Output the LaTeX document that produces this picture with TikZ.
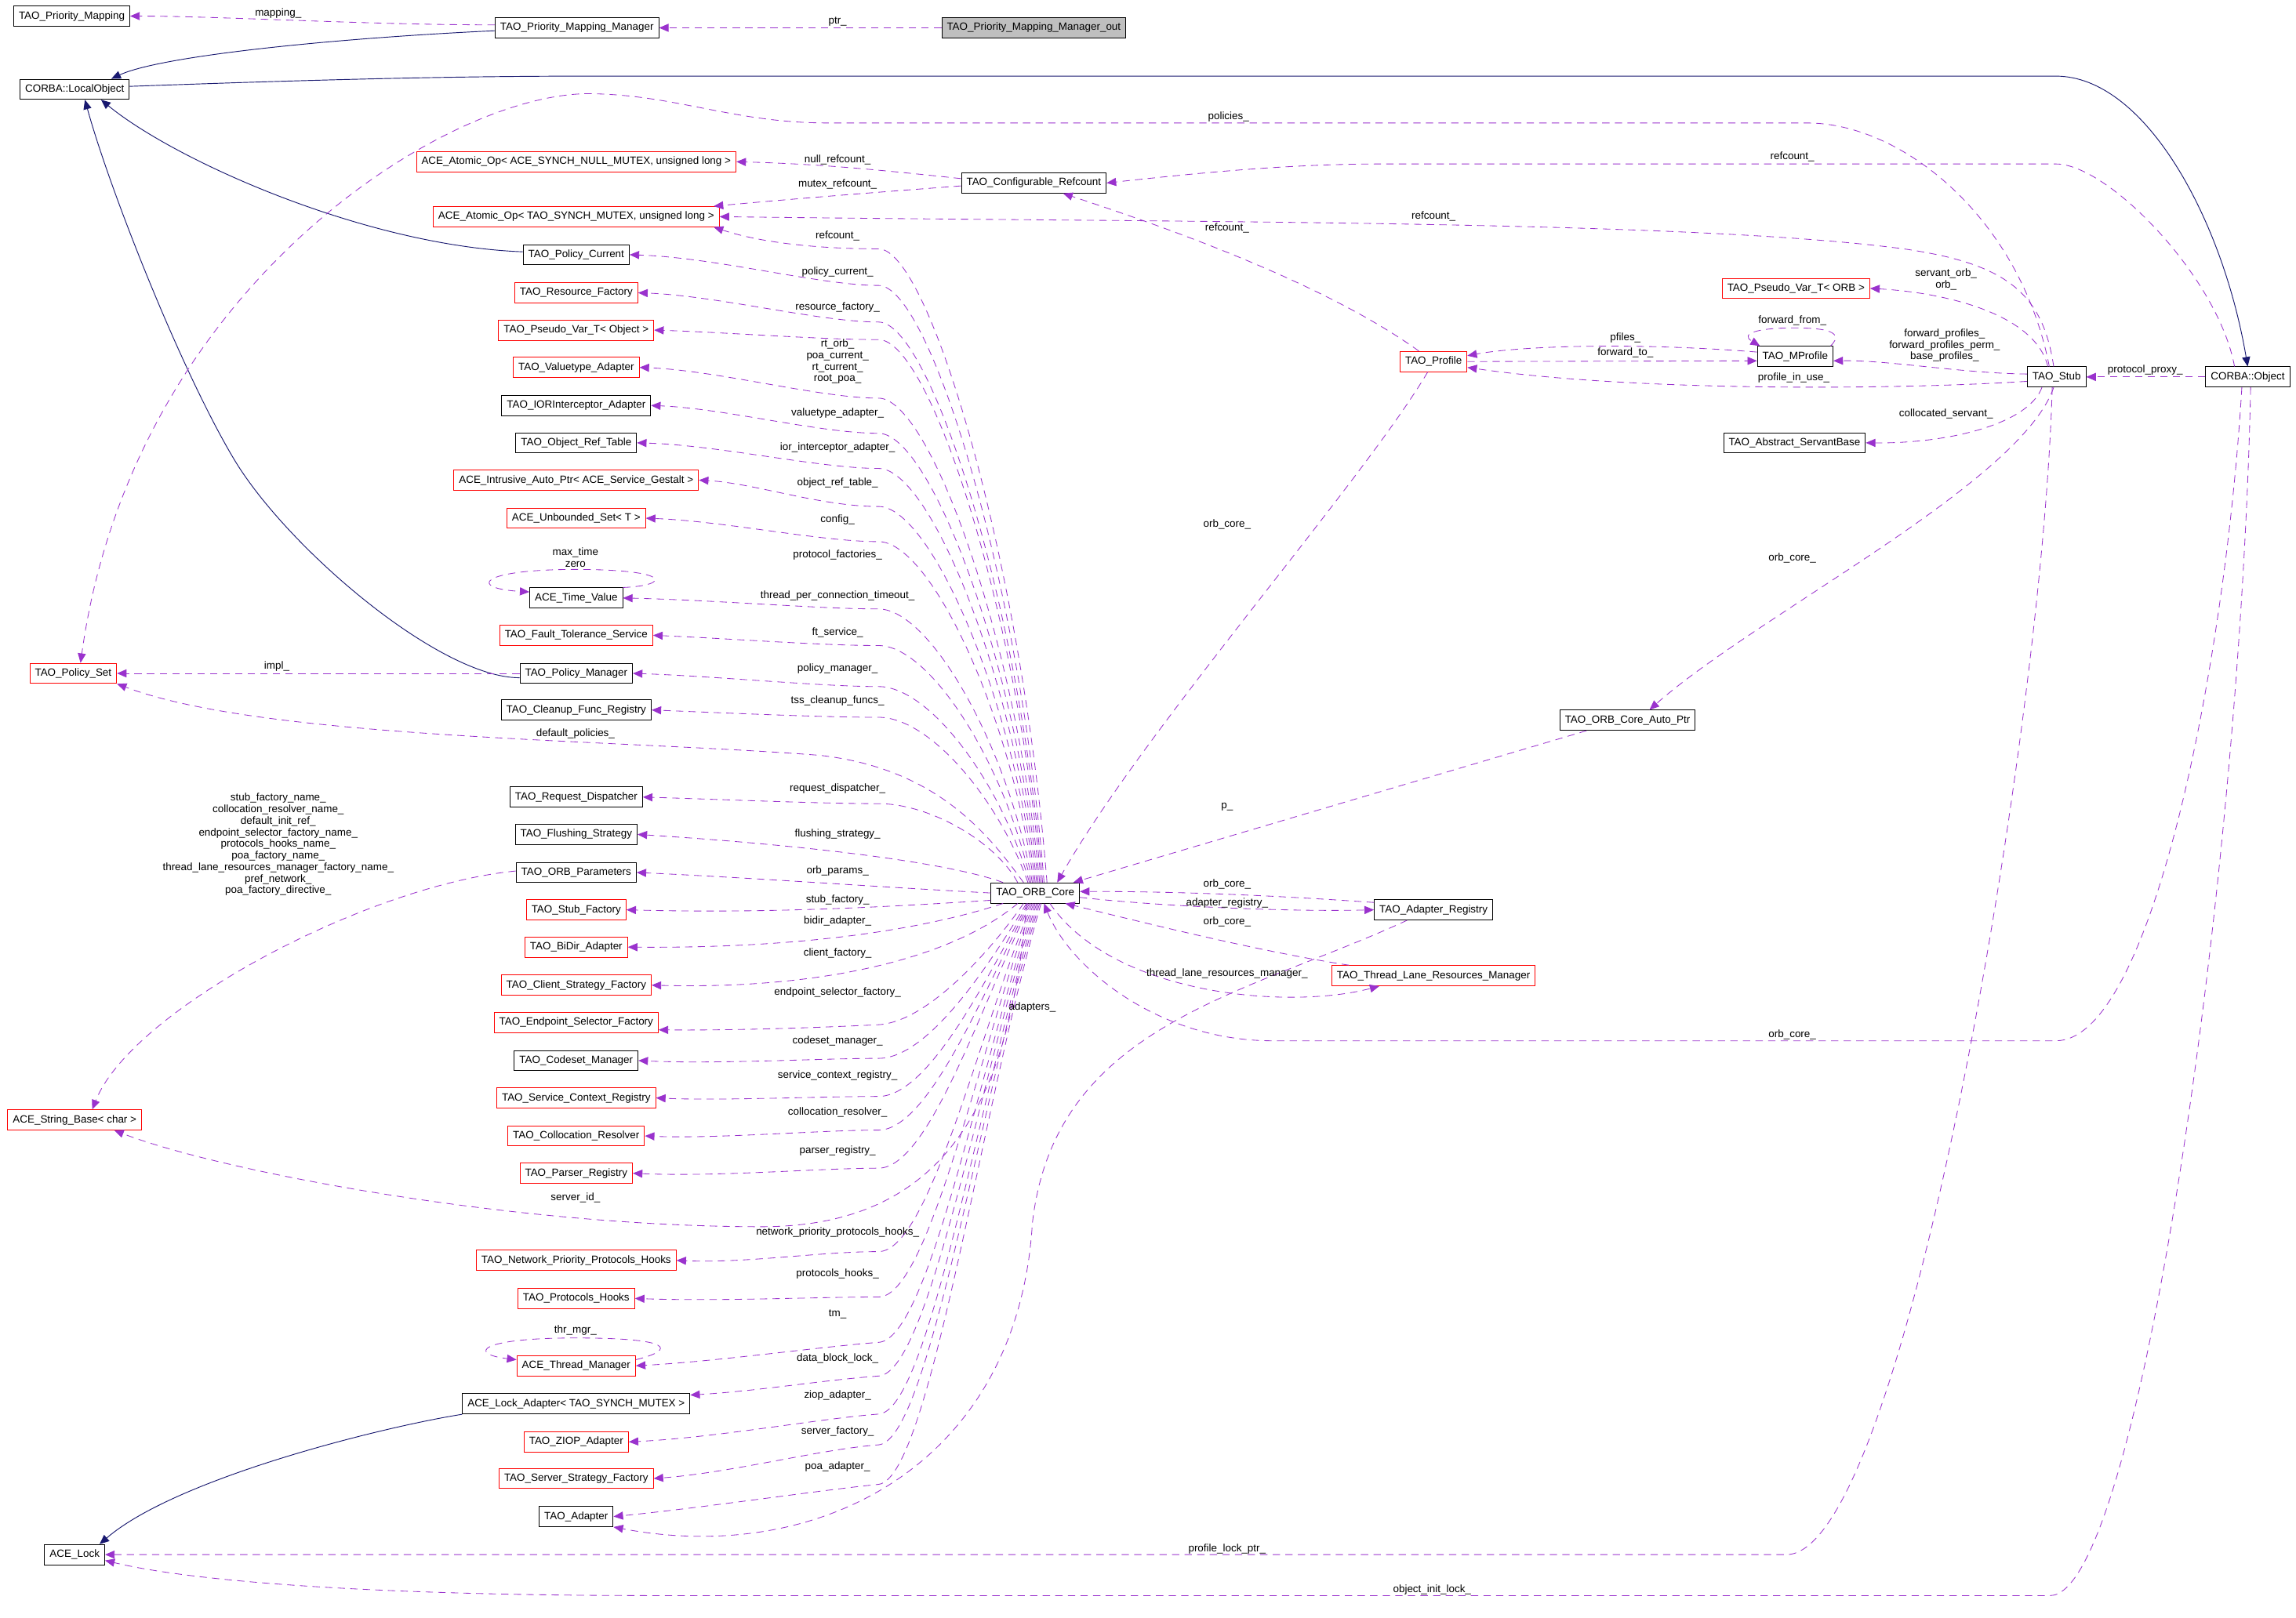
\documentclass[tikz,border=0pt]{standalone}
\usepackage{fontspec}
\setmainfont{Liberation Sans}
\usetikzlibrary{arrows.meta}
\definecolor{memcol}{HTML}{9A32CD}
\definecolor{inhcol}{HTML}{191970}
\definecolor{boxgray}{HTML}{BFBFBF}
\newcommand{\dxfont}{\fontsize{7.2}{7.9}\selectfont}
\begin{document}
\begin{tikzpicture}[x=1pt,y=-1pt,
    cls/.style={draw=black,fill=white,line width=0.5pt,minimum height=13.8pt,inner xsep=3.5pt,inner ysep=0pt,font=\dxfont},
    clsred/.style={cls,draw=red},
    clsgray/.style={cls,fill=boxgray},
    lbl/.style={font=\dxfont,inner sep=0pt,align=center},
    mem/.style={draw=memcol,line width=0.45pt,dash pattern=on 5pt off 3.6pt,-{Triangle[length=6.5pt,width=5.5pt]}},
    inh/.style={draw=inhcol,line width=0.5pt,-{Triangle[length=6.5pt,width=5.5pt]}}]
        \fill[white] (0,0) rectangle (1568,1105);
        \useasboundingbox (0,0) rectangle (1568,1105);

        \node[cls] (pmap) at (49,11) {TAO\_Priority\_Mapping};
        \node[cls] (pmm) at (394,19) {TAO\_Priority\_Mapping\_Manager};
        \node[clsgray] (pmmout) at (706,19) {TAO\_Priority\_Mapping\_Manager\_out};
        \node[cls] (lobj) at (51,61) {CORBA::LocalObject};
        \node[clsred] (atomnull) at (393.5,110.5) {ACE\_Atomic\_Op< ACE\_SYNCH\_NULL\_MUTEX, unsigned long >};
        \node[cls] (confref) at (706,125) {TAO\_Configurable\_Refcount};
        \node[clsred] (atomtao) at (393.5,148) {ACE\_Atomic\_Op< TAO\_SYNCH\_MUTEX, unsigned long >};
        \node[cls] (polcur) at (393.5,174) {TAO\_Policy\_Current};
        \node[clsred] (resfac) at (393.5,200) {TAO\_Resource\_Factory};
        \node[clsred] (pvobj) at (393.5,225.5) {TAO\_Pseudo\_Var\_T< Object >};
        \node[clsred] (valadp) at (393.5,251) {TAO\_Valuetype\_Adapter};
        \node[cls] (iorint) at (393.5,277) {TAO\_IORInterceptor\_Adapter};
        \node[cls] (objref) at (393.5,302.5) {TAO\_Object\_Ref\_Table};
        \node[clsred] (intrus) at (393.5,328) {ACE\_Intrusive\_Auto\_Ptr< ACE\_Service\_Gestalt >};
        \node[clsred] (unbset) at (393.5,354) {ACE\_Unbounded\_Set< T >};
        \node[cls] (timeval) at (393.5,408.5) {ACE\_Time\_Value};
        \node[clsred] (ftserv) at (393.5,434) {TAO\_Fault\_Tolerance\_Service};
        \node[cls] (polmgr) at (393.5,460) {TAO\_Policy\_Manager};
        \node[cls] (cleanup) at (393.5,485) {TAO\_Cleanup\_Func\_Registry};
        \node[cls] (reqdisp) at (393.5,544.5) {TAO\_Request\_Dispatcher};
        \node[cls] (flush) at (393.5,570) {TAO\_Flushing\_Strategy};
        \node[cls] (orbpar) at (393.5,596) {TAO\_ORB\_Parameters};
        \node[clsred] (stubfac) at (393.5,621.5) {TAO\_Stub\_Factory};
        \node[clsred] (bidir) at (393.5,647) {TAO\_BiDir\_Adapter};
        \node[clsred] (clistr) at (393.5,673) {TAO\_Client\_Strategy\_Factory};
        \node[clsred] (endsel) at (393.5,698.5) {TAO\_Endpoint\_Selector\_Factory};
        \node[cls] (codeset) at (393.5,724.5) {TAO\_Codeset\_Manager};
        \node[clsred] (svcctx) at (393.5,750) {TAO\_Service\_Context\_Registry};
        \node[clsred] (colres) at (393.5,776) {TAO\_Collocation\_Resolver};
        \node[clsred] (parser) at (393.5,801.5) {TAO\_Parser\_Registry};
        \node[clsred] (netprio) at (393.5,861) {TAO\_Network\_Priority\_Protocols\_Hooks};
        \node[clsred] (prothk) at (393.5,887) {TAO\_Protocols\_Hooks};
        \node[clsred] (thrmgr) at (393.5,933) {ACE\_Thread\_Manager};
        \node[cls] (lockadp) at (393.5,959) {ACE\_Lock\_Adapter< TAO\_SYNCH\_MUTEX >};
        \node[clsred] (ziop) at (393.5,985) {TAO\_ZIOP\_Adapter};
        \node[clsred] (srvstr) at (393.5,1010) {TAO\_Server\_Strategy\_Factory};
        \node[cls] (adapter) at (393.5,1036) {TAO\_Adapter};
        \node[cls] (acelock) at (51,1062) {ACE\_Lock};
        \node[clsred] (polset) at (50,460) {TAO\_Policy\_Set};
        \node[clsred] (strbase) at (51,765) {ACE\_String\_Base< char >};
        \node[cls] (orbcore) at (707,610) {TAO\_ORB\_Core};
        \node[clsred] (profile) at (979,247) {TAO\_Profile};
        \node[cls] (mprof) at (1226,243.5) {TAO\_MProfile};
        \node[clsred] (pvorb) at (1226.5,197) {TAO\_Pseudo\_Var\_T< ORB >};
        \node[cls] (servbase) at (1225.5,302.5) {TAO\_Abstract\_ServantBase};
        \node[cls] (stub) at (1404.5,257.5) {TAO\_Stub};
        \node[cls] (cobj) at (1535,257.5) {CORBA::Object};
        \node[cls] (autoptr) at (1111.5,492) {TAO\_ORB\_Core\_Auto\_Ptr};
        \node[cls] (adpreg) at (979,621.5) {TAO\_Adapter\_Registry};
        \node[clsred] (tlrm) at (979,666.5) {TAO\_Thread\_Lane\_Resources\_Manager};

        \draw[mem] ([yshift=2pt]pmm.west) .. controls (250,17) and (150,11) .. (pmap.east);
        \draw[mem] (pmmout.west) -- (pmm.east);
        \draw[inh] ([yshift=-2pt]pmm.west) .. controls (230,26) and (110,38) .. ([xshift=25pt]lobj.north);
        \draw[inh] ([yshift=2pt]lobj.east) .. controls (200,55) and (300,52) .. (400,52) -- (1404,52) .. controls (1465,52) and (1518,150) .. (cobj.north);
        \draw[inh] ([yshift=2pt]polcur.west) .. controls (250,168) and (120,110) .. ([xshift=18pt]lobj.south);
        \draw[inh] ([yshift=-3pt]polmgr.west) .. controls (300,463) and (196,374) .. (160,314) .. controls (124,254) and (75,130) .. ([xshift=7pt]lobj.south);
        \draw[inh] (lockadp.south west) .. controls (260,975) and (120,1010) .. ([xshift=17pt]acelock.north);

        \draw[mem] ([xshift=-5pt]stub.north) .. controls (1380,150) and (1300,84) .. (1234,84) -- (565,84) .. controls (500,84) and (460,64) .. (400,64) .. controls (300,66) and (90,200) .. ([xshift=5pt]polset.north);
        \draw[mem] ([yshift=3pt]confref.west) .. controls (600,116) and (560,112) .. (atomnull.east);
        \draw[mem] ([yshift=-2pt]confref.west) .. controls (590,132) and (540,136) .. ([xshift=-4pt]atomtao.north east);
        \draw[mem] ([xshift=-9pt]cobj.north) .. controls (1515,190) and (1440,112) .. (1404,112) -- (944,112) .. controls (880,112) and (820,118) .. (confref.east);
        \draw[mem] ([xshift=-2pt]stub.north) .. controls (1395,200) and (1370,180) .. (1300,170) .. controls (1150,150) and (800,152) .. (atomtao.east);
        \draw[mem] ([xshift=-10pt]profile.north) .. controls (900,190) and (780,150) .. ([xshift=20pt]confref.south);

        \draw[mem] ([xshift=8pt]orbcore.north) .. controls (698,386) and (635,170) .. (600,170) .. controls (560,170) and (520,166) .. ([xshift=-4pt]atomtao.south east);
        \draw[mem] ([xshift=6pt]orbcore.north) .. controls (697,398) and (635,195) .. (600,195) .. controls (560,195) and (490,176) .. (polcur.east);
        \draw[mem] ([xshift=5pt]orbcore.north) .. controls (696,411) and (635,220) .. (600,220) .. controls (560,220) and (490,202) .. (resfac.east);
        \draw[mem] ([xshift=4pt]orbcore.north) .. controls (695,417) and (635,232) .. (600,232) .. controls (560,232) and (495,227) .. (pvobj.east);
        \draw[mem] ([xshift=3pt]orbcore.north) .. controls (694,437) and (635,272) .. (600,272) .. controls (560,272) and (490,253) .. (valadp.east);
        \draw[mem] ([xshift=2pt]orbcore.north) .. controls (693,449) and (635,296) .. (600,296) .. controls (560,296) and (495,279) .. (iorint.east);
        \draw[mem] ([xshift=1pt]orbcore.north) .. controls (692,461) and (635,320) .. (600,320) .. controls (560,320) and (490,304) .. (objref.east);
        \draw[mem] (orbcore.north) .. controls (691,474) and (635,346) .. (600,346) .. controls (560,346) and (515,330) .. (intrus.east);
        \draw[mem] ([xshift=-1pt]orbcore.north) .. controls (690,486) and (635,370) .. (600,370) .. controls (560,370) and (495,356) .. (unbset.east);
        \draw[mem] ([xshift=-2pt]orbcore.north) .. controls (688,509) and (635,416) .. (600,416) .. controls (560,416) and (490,410) .. (timeval.east);
        \draw[mem] ([xshift=-3pt]orbcore.north) .. controls (686,521) and (635,441) .. (600,441) .. controls (560,441) and (495,436) .. (ftserv.east);
        \draw[mem] ([xshift=-4pt]orbcore.north) .. controls (684,535) and (635,469) .. (600,469) .. controls (560,469) and (490,462) .. (polmgr.east);
        \draw[mem] ([xshift=-5pt]orbcore.north) .. controls (682,546) and (635,490) .. (600,490) .. controls (560,490) and (495,487) .. (cleanup.east);
        \draw[mem] ([xshift=-8pt]orbcore.north) .. controls (675,570) and (640,525) .. (560,516) .. controls (420,505) and (180,505) .. (polset.south east);
        \draw[mem] ([xshift=-12pt]orbcore.north) .. controls (680,575) and (635,549) .. (600,549) .. controls (560,549) and (490,546) .. (reqdisp.east);
        \draw[mem] ([xshift=-22pt]orbcore.north) .. controls (650,590) and (560,578) .. (flush.east);
        \draw[mem] (orbcore.west) .. controls (600,606) and (520,600) .. (orbpar.east);
        \draw[mem] ([yshift=-5pt]orbcore.west) .. controls (600,620) and (520,624) .. (stubfac.east);
        \draw[mem] ([xshift=-22pt]orbcore.south) .. controls (640,632) and (560,648) .. (bidir.east);
        \draw[mem] ([xshift=-12pt]orbcore.south) .. controls (650,655) and (560,676) .. (clistr.east);
        \draw[mem] ([xshift=-8pt]orbcore.south) .. controls (680,645) and (635,698) .. (600,700) .. controls (560,702) and (500,704) .. ([yshift=-5pt]endsel.east);
        \draw[mem] ([xshift=-6pt]orbcore.south) .. controls (678,655) and (635,723) .. (600,723) .. controls (560,723) and (490,727) .. (codeset.east);
        \draw[mem] ([xshift=-5pt]orbcore.south) .. controls (676,664) and (635,749) .. (600,749) .. controls (560,749) and (490,752) .. (svcctx.east);
        \draw[mem] ([xshift=-4pt]orbcore.south) .. controls (674,672) and (635,772) .. (600,772) .. controls (560,772) and (490,778) .. (colres.east);
        \draw[mem] ([xshift=-3pt]orbcore.south) .. controls (672,681) and (635,798) .. (600,798) .. controls (560,798) and (490,804) .. (parser.east);
        \draw[mem] ([xshift=-6pt]orbcore.south) .. controls (690,760) and (640,838) .. (520,838) .. controls (350,838) and (150,800) .. ([xshift=27pt]strbase.south);
        \draw[mem] ([xshift=-2pt]orbcore.south) .. controls (670,700) and (635,855) .. (600,855) .. controls (560,855) and (510,863) .. (netprio.east);
        \draw[mem] ([xshift=-1pt]orbcore.south) .. controls (670,710) and (635,886) .. (600,886) .. controls (560,886) and (490,889) .. (prothk.east);
        \draw[mem] (orbcore.south) .. controls (670,722) and (635,915) .. (600,917) .. controls (560,920) and (490,930) .. (thrmgr.east);
        \draw[mem] ([xshift=1pt]orbcore.south) .. controls (670,730) and (635,938) .. (600,940) .. controls (560,943) and (520,950) .. ([yshift=6pt]lockadp.east);
        \draw[mem] ([xshift=2pt]orbcore.south) .. controls (670,739) and (635,964) .. (600,966) .. controls (560,969) and (490,982) .. (ziop.east);
        \draw[mem] ([xshift=3pt]orbcore.south) .. controls (670,746) and (635,984) .. (600,987) .. controls (560,990) and (500,1006) .. (srvstr.east);
        \draw[mem] ([xshift=4pt]orbcore.south) .. controls (670,756) and (635,1010) .. (600,1014) .. controls (560,1018) and (480,1030) .. (adapter.east);

        \draw[mem] (timeval.north east) .. controls (458,400) and (460,389) .. (393,389) .. controls (326,389) and (320,402) .. ([yshift=-3pt]timeval.north west);
        \draw[mem] ([yshift=-3pt]thrmgr.north east) .. controls (462,922) and (460,914) .. (393,914) .. controls (326,914) and (320,925) .. ([yshift=-3pt]thrmgr.north west);
        \draw[mem] (polmgr.west) -- (polset.east);
        \draw[mem] ([yshift=1pt]orbpar.west) .. controls (250,605) and (90,690) .. ([xshift=12pt]strbase.north);

        \draw[mem] ([xshift=-4pt]profile.south) .. controls (930,330) and (780,500) .. ([xshift=15pt]orbcore.north);
        \draw[mem] ([xshift=-28pt]autoptr.south) -- ([xshift=26pt]orbcore.north);
        \draw[mem] ([yshift=5pt]adpreg.west) .. controls (860,611) and (800,609) .. ([yshift=1pt]orbcore.east);
        \draw[mem] ([yshift=-3pt]orbcore.east) .. controls (790,619) and (880,623) .. (adpreg.west);
        \draw[mem] ([xshift=12pt]tlrm.north west) .. controls (860,650) and (780,630) .. ([xshift=-10pt]orbcore.south east);
        \draw[mem] ([xshift=10pt]orbcore.south) .. controls (760,680) and (880,690) .. ([xshift=-37pt]tlrm.south);
        \draw[mem] ([xshift=-18pt]adpreg.south) .. controls (850,680) and (720,700) .. (705,836) .. controls (695,1000) and (560,1070) .. (adapter.south east);
        \draw[mem] ([xshift=-4pt]cobj.south) .. controls (1520,450) and (1470,711) .. (1404,711) -- (869,711) .. controls (790,711) and (730,660) .. ([xshift=6pt]orbcore.south);
        \draw[mem] ([xshift=2pt]cobj.south) .. controls (1530,600) and (1460,1090) .. (1400,1090) -- (450,1090) .. controls (250,1090) and (130,1080) .. ([yshift=-4pt]acelock.east);
        \draw[mem] ([xshift=-3pt]stub.south) .. controls (1395,500) and (1300,1062) .. (1220,1062) -- (acelock.east);

        \draw[mem] (cobj.west) -- (stub.east);
        \draw[mem] ([xshift=-10pt]stub.south) .. controls (1385,290) and (1330,303) .. (servbase.east);
        \draw[mem] ([xshift=-2pt]stub.south) .. controls (1380,330) and (1200,420) .. ([xshift=15pt]autoptr.north);
        \draw[mem] ([xshift=-6pt]stub.north) .. controls (1390,215) and (1330,200) .. (pvorb.east);
        \draw[mem] ([yshift=2pt]stub.west) .. controls (1340,255) and (1290,246) .. ([yshift=-3pt]mprof.east);
        \draw[mem] ([yshift=-3pt]stub.west) .. controls (1300,266) and (1120,268) .. ([yshift=-4pt]profile.east);
        \draw[mem] ([yshift=3pt]mprof.west) .. controls (1120,234) and (1040,236) .. ([yshift=4pt]profile.east);
        \draw[mem] (profile.east) -- ([yshift=-3pt]mprof.west);
        \draw[mem] ([xshift=-2pt]mprof.north east) .. controls (1262,225) and (1240,224) .. (1225,224) .. controls (1200,224) and (1188,228) .. ([xshift=2pt]mprof.north west);

        \node[lbl] (lMapping) at (190,9) {mapping\_};
        \node[lbl] (lPtr) at (572,15) {ptr\_};
        \node[lbl] (lPolicies) at (839,80) {policies\_};
        \node[lbl] (lNullRef) at (572,109) {null\_refcount\_};
        \node[lbl] (lMutexRef) at (572,126) {mutex\_refcount\_};
        \node[lbl] (lRefObj) at (1224,107) {refcount\_};
        \node[lbl] (lRefStub) at (979,148) {refcount\_};
        \node[lbl] (lRefProf) at (838,156) {refcount\_};
        \node[lbl] (lRefCore) at (572,161) {refcount\_};
        \node[lbl] (lPolCur) at (572,186) {policy\_current\_};
        \node[lbl] (lResFac) at (572,210) {resource\_factory\_};
        \node[lbl] (lPseudo) at (572,247) {rt\_orb\_\\poa\_current\_\\rt\_current\_\\root\_poa\_};
        \node[lbl] (lValAdp) at (572,282) {valuetype\_adapter\_};
        \node[lbl] (lIorInt) at (572,306) {ior\_interceptor\_adapter\_};
        \node[lbl] (lObjRef) at (572,330) {object\_ref\_table\_};
        \node[lbl] (lConfig) at (572,355) {config\_};
        \node[lbl] (lProtFac) at (572,379) {protocol\_factories\_};
        \node[lbl] (lTime) at (393,381) {max\_time\\zero};
        \node[lbl] (lThrTime) at (572,407) {thread\_per\_connection\_timeout\_};
        \node[lbl] (lFtServ) at (572,432) {ft\_service\_};
        \node[lbl] (lImpl) at (189,455) {impl\_};
        \node[lbl] (lPolMgr) at (572,457) {policy\_manager\_};
        \node[lbl] (lCleanup) at (572,479) {tss\_cleanup\_funcs\_};
        \node[lbl] (lDefPol) at (393,501) {default\_policies\_};
        \node[lbl] (lReqDisp) at (572,539) {request\_dispatcher\_};
        \node[lbl] (lNames) at (190,577) {stub\_factory\_name\_\\collocation\_resolver\_name\_\\default\_init\_ref\_\\endpoint\_selector\_factory\_name\_\\protocols\_hooks\_name\_\\poa\_factory\_name\_\\thread\_lane\_resources\_manager\_factory\_name\_\\pref\_network\_\\poa\_factory\_directive\_};
        \node[lbl] (lFlush) at (572,570) {flushing\_strategy\_};
        \node[lbl] (lOrbPar) at (572,595) {orb\_params\_};
        \node[lbl] (lStubFac) at (572,615) {stub\_factory\_};
        \node[lbl] (lBiDir) at (572,629) {bidir\_adapter\_};
        \node[lbl] (lCliFac) at (572,651) {client\_factory\_};
        \node[lbl] (lEndSel) at (572,678) {endpoint\_selector\_factory\_};
        \node[lbl] (lCodeset) at (572,711) {codeset\_manager\_};
        \node[lbl] (lSvcCtx) at (572,735) {service\_context\_registry\_};
        \node[lbl] (lColRes) at (572,760) {collocation\_resolver\_};
        \node[lbl] (lParser) at (572,786) {parser\_registry\_};
        \node[lbl] (lServerId) at (393,818) {server\_id\_};
        \node[lbl] (lNetPrio) at (572,842) {network\_priority\_protocols\_hooks\_};
        \node[lbl] (lProtHk) at (572,870) {protocols\_hooks\_};
        \node[lbl] (lTm) at (572,898) {tm\_};
        \node[lbl] (lThrMgr) at (393,909) {thr\_mgr\_};
        \node[lbl] (lDataBlk) at (572,928) {data\_block\_lock\_};
        \node[lbl] (lZiop) at (572,953) {ziop\_adapter\_};
        \node[lbl] (lSrvFac) at (572,978) {server\_factory\_};
        \node[lbl] (lPoaAdp) at (572,1002) {poa\_adapter\_};
        \node[lbl] (lOrbCoreProf) at (838,358) {orb\_core\_};
        \node[lbl] (lOrbCoreStub) at (1224,381) {orb\_core\_};
        \node[lbl] (lP) at (838,551) {p\_};
        \node[lbl] (lOrbCoreAdp) at (838,604) {orb\_core\_};
        \node[lbl] (lAdpReg) at (838,617) {adapter\_registry\_};
        \node[lbl] (lOrbCoreTl) at (838,630) {orb\_core\_};
        \node[lbl] (lTlrm) at (838,665) {thread\_lane\_resources\_manager\_};
        \node[lbl] (lAdapters) at (705,688) {adapters\_};
        \node[lbl] (lOrbCoreObj) at (1224,707) {orb\_core\_};
        \node[lbl] (lProfLock) at (838,1058) {profile\_lock\_ptr\_};
        \node[lbl] (lObjInit) at (978,1086) {object\_init\_lock\_};
        \node[lbl] (lPfiles) at (1110,231) {pfiles\_};
        \node[lbl] (lFwdTo) at (1110,241) {forward\_to\_};
        \node[lbl] (lFwdFrom) at (1224,219) {forward\_from\_};
        \node[lbl] (lFwdProf) at (1328,236) {forward\_profiles\_\\forward\_profiles\_perm\_\\base\_profiles\_};
        \node[lbl] (lServOrb) at (1329,191) {servant\_orb\_\\orb\_};
        \node[lbl] (lProfUse) at (1225,258) {profile\_in\_use\_};
        \node[lbl] (lColServ) at (1329,283) {collocated\_servant\_};
        \node[lbl] (lProtProxy) at (1465,253) {protocol\_proxy\_};
    \end{tikzpicture}
\end{document}
